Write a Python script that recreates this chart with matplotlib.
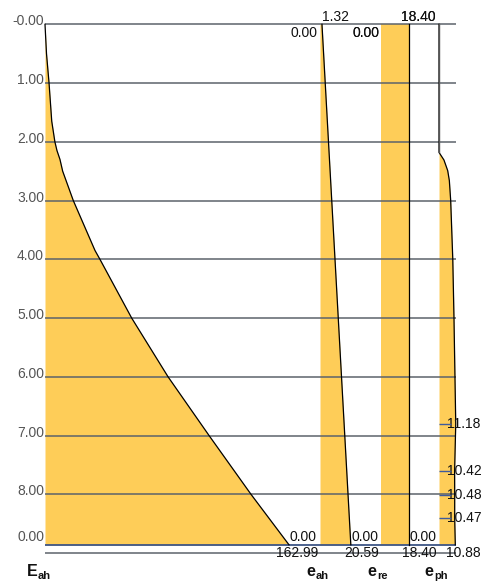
import matplotlib
matplotlib.use("Agg")
import matplotlib.pyplot as plt
from matplotlib.transforms import offset_copy

plt.rcParams['font.family'] = ['Liberation Sans', 'DejaVu Sans']

# ---- data -------------------------------------------------------------
depth_ticks = [0, 1, 2, 3, 4, 5, 6, 7, 8, 9]
depth_tick_labels = ["-0.00", "1.00", "2.00", "3.00", "4.00",
                     "5.00", "6.00", "7.00", "8.00", ""]
wall_height = 8.86
base_label = "0.00"

# resultant active earth force E_ah
E_ah_depth = [0.0, 0.5, 1.0, 1.65, 2.0, 2.15, 2.3, 2.5, 3.0, 3.85, 4.0,
              5.0, 6.0, 7.0, 8.0, 8.86]
E_ah_value = [0.0, 1.0, 2.7, 4.5, 6.6, 8.0, 10.0, 11.8, 18.9, 33.4, 36.7,
              57.9, 82.2, 109.6, 137.6, 162.99]

# active earth pressure e_ah
e_ah_depth = [0.0, 8.86]
e_ah_value = [1.32, 20.59]

# redistributed pressure e_re
e_re_depth = [0.0, 8.86]
e_re_value = [18.40, 18.40]

# pressure e_ph
e_ph_depth = [0.0, 2.18, 2.31, 2.49, 2.66, 3.0, 4.0, 5.0,
              6.80, 7.60, 8.01, 8.40, 8.86]
e_ph_value = [0.0, 0.0, 3.3, 5.8, 6.9, 7.8, 9.2, 10.0,
              11.18, 10.42, 10.48, 10.47, 10.88]
e_ph_marked_depth = [6.80, 7.60, 8.01, 8.40]
e_ph_marked_value = [11.18, 10.42, 10.48, 10.47]

panel_names = [("E", "ah"), ("e", "ah"), ("e", "re"), ("e", "ph")]

# ---- layout -----------------------------------------------------------
W, H, DPI = 491, 583, 100
px_per_unit = 1.497      # horizontal scale (value units -> pixels)
px_per_m = 58.75         # vertical scale (depth -> pixels)
left_px, top_px = 45, 24.3

# horizontal origin of each panel in value units
base_E_ah = 0.0
base_e_ah = 183.7
base_e_re = 224.5
base_e_ph = 263.2
grid_right = 274.5

fill_col = "#FECD58"
grid_col = "#5c636b"
text_col = "#111111"
tick_col = "#555555"

fig = plt.figure(figsize=(W / DPI, H / DPI), dpi=DPI)
ax = fig.add_axes([0, 0, 1, 1])
ax.set_xlim(-left_px / px_per_unit, (W - left_px) / px_per_unit)
ax.set_ylim((H - top_px) / px_per_m, -top_px / px_per_m)
ax.axis("off")


def shifted(dx, dy):
    return offset_copy(ax.transData, fig=fig, x=dx, y=dy, units="dots")


# ---- fills and outlines ---------------------------------------------
def panel(base, depth, value, line_col="black"):
    xs = [base + v for v in value]
    ax.fill_betweenx(depth, base, xs, color=fill_col, lw=0, zorder=1)
    ax.plot(xs, depth, color=line_col, lw=0.9, zorder=3)


panel(base_E_ah, E_ah_depth, E_ah_value)
panel(base_e_ah, e_ah_depth, e_ah_value)
panel(base_e_re, e_re_depth, e_re_value)
panel(base_e_ph, e_ph_depth, e_ph_value)
ax.plot([base_e_ph, base_e_ph], [0, e_ph_depth[1]], color="#555555",
        lw=1.0, zorder=3)

# ---- grid -------------------------------------------------------------
ax.hlines(depth_ticks, base_E_ah, grid_right, color=grid_col, lw=1.1,
          zorder=2)
ax.hlines([wall_height], base_E_ah, grid_right, color="#3d5585", lw=1.3,
          zorder=2)

# depth labels
for d, lab in zip(depth_ticks, depth_tick_labels):
    if lab:
        ax.text(base_E_ah, d, lab, transform=shifted(-1, -1), ha="right",
                va="baseline", fontsize=10, color=tick_col)
ax.text(base_E_ah, wall_height, base_label, transform=shifted(-1, 4),
        ha="right", va="baseline", fontsize=10, color=tick_col)

# ---- value labels -----------------------------------------------------
top_lbl = dict(fontsize=10, color=text_col)
ax.text(base_e_ah, 0, "0.00", transform=shifted(-2, -9), ha="right",
        va="center", **top_lbl)
ax.text(base_e_ah + e_ah_value[0], 0, f"{e_ah_value[0]:.2f}",
        transform=shifted(0, 3), ha="left", va="baseline", **top_lbl)
for _ in range(2):
    ax.text(base_e_re, 0, "0.00", transform=shifted(-2, -9), ha="right",
            va="center", **top_lbl)
    ax.text(base_e_ph, 0, f"{e_re_value[0]:.2f}", transform=shifted(-3, 3),
            ha="right", va="baseline", **top_lbl)

# bottom labels of each panel
bottoms = [(base_e_ah, E_ah_value[-1]), (base_e_re, e_ah_value[-1]),
           (base_e_ph, e_re_value[-1])]
for xb, val in bottoms:
    ax.text(xb, wall_height, "0.00", transform=shifted(-3, 4), ha="right",
            va="baseline", **top_lbl)
    ax.text(xb, 9, f"{val:.2f}", transform=shifted(-2, 0), ha="right",
            va="center", **top_lbl)
ax.text(base_e_ph, 9, f"{e_ph_value[-1]:.2f}", transform=shifted(7, 0),
        ha="left", va="center", **top_lbl)

# marked values of e_ph
ax.hlines(e_ph_marked_depth, base_e_ph, base_e_ph + 8, color="#3d5a9e",
          lw=1.0, zorder=4)
for d, v in zip(e_ph_marked_depth, e_ph_marked_value):
    ax.text(base_e_ph, d, f"{v:.2f}", transform=shifted(8, 0), ha="left",
            va="center", **top_lbl)

# ---- panel names -------------------------------------------------------
name_x = [base_E_ah, base_e_ah, base_e_re, base_e_ph]
name_dx = [-18, -14, -14, -15]
sub_dx = [-7, -4, -4, -5]
for xb, dx, sdx, (sym, sub) in zip(name_x, name_dx, sub_dx, panel_names):
    ax.text(xb, 9.0, sym, transform=shifted(dx, -23), ha="left",
            va="baseline", fontsize=11.5, fontweight="bold",
            color=text_col)
    ax.text(xb, 9.0, sub, transform=shifted(sdx, -26), ha="left",
            va="baseline", fontsize=8, fontweight="bold",
            color=text_col)

fig.savefig("out.png", dpi=DPI)
